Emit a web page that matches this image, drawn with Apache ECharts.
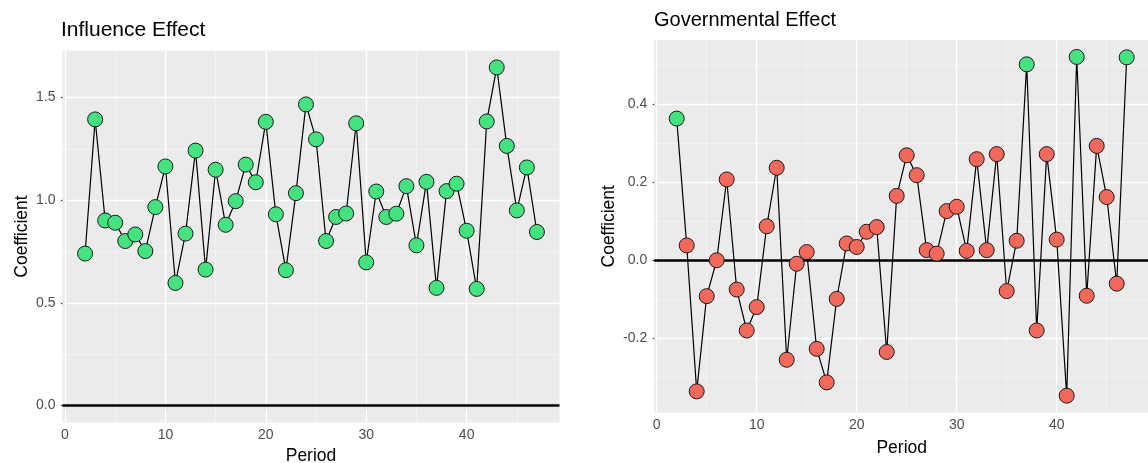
<!DOCTYPE html>
<html>
<head>
<meta charset="utf-8">
<title>Influence / Governmental Effect</title>
<script src="https://cdn.jsdelivr.net/npm/echarts@6/dist/echarts.min.js"></script>
<style>
  html, body { margin: 0; padding: 0; background: #fff; }
  #chart { width: 1148px; height: 463px; }
</style>
</head>
<body>
<div id="chart"></div>
<script>
// data
const periods = [2, 3, 4, 5, 6, 7, 8, 9, 10, 11, 12, 13, 14, 15, 16, 17, 18, 19, 20, 21, 22, 23, 24,
  25, 26, 27, 28, 29, 30, 31, 32, 33, 34, 35, 36, 37, 38, 39, 40, 41, 42, 43, 44, 45, 46, 47];

const influence = [0.740, 1.393, 0.901, 0.890, 0.801, 0.833, 0.752, 0.966, 1.164, 0.597, 0.837, 1.241,
  0.662, 1.148, 0.880, 0.995, 1.173, 1.087, 1.381, 0.931, 0.659, 1.034, 1.466, 1.296, 0.801, 0.918,
  0.935, 1.374, 0.697, 1.042, 0.918, 0.934, 1.068, 0.780, 1.089, 0.573, 1.044, 1.080, 0.851, 0.568,
  1.383, 1.646, 1.264, 0.950, 1.159, 0.845];

const governmental = [0.363, 0.038, -0.336, -0.092, 0.000, 0.207, -0.075, -0.180, -0.120, 0.087, 0.237,
  -0.255, -0.009, 0.021, -0.227, -0.313, -0.099, 0.043, 0.034, 0.073, 0.085, -0.235, 0.165, 0.269,
  0.218, 0.026, 0.017, 0.126, 0.137, 0.024, 0.259, 0.026, 0.272, -0.079, 0.050, 0.502, -0.180, 0.272,
  0.053, -0.347, 0.521, -0.091, 0.293, 0.162, -0.060, 0.520];

// periods drawn green in the governmental panel
const govFlagged = [2, 37, 42, 47];

const xTicks = [0, 10, 20, 30, 40];
const xMinor = [5, 15, 25, 35, 45];
const infTicks = [0, 0.5, 1.0, 1.5];
const infMinor = [0.25, 0.75, 1.25];
const govTicks = [-0.2, 0, 0.2, 0.4];
const govMinor = [-0.3, -0.1, 0.1, 0.3, 0.5];

const GREEN = '#45E37F';
const RED = '#F2695B';
const FONT = '"Liberation Sans", Arial, Helvetica, sans-serif';

const chart = echarts.init(document.getElementById('chart'));

// ggplot style range: 5% padding, zero line included
function padded(values) {
  const lo = Math.min(0, ...values);
  const hi = Math.max(0, ...values);
  const pad = (hi - lo) * 0.05;
  return [lo - pad, hi + pad];
}

const pMin = Math.min(...periods);
const pMax = Math.max(...periods);
const xRange = [pMin - (pMax - pMin) * 0.05, pMax + (pMax - pMin) * 0.05];
const infRange = padded(influence);
const govRange = padded(governmental);

// panel grid lines + black zero line, drawn under the data
function gridLines(xMaj, xMin, yMaj, yMin) {
  const minor = { color: '#F6F6F6', width: 0.7, type: 'solid' };
  const major = { color: '#FFFFFF', width: 1.3, type: 'solid' };
  return [
    ...xMin.map(v => ({ xAxis: v, lineStyle: minor })),
    ...yMin.map(v => ({ yAxis: v, lineStyle: minor })),
    ...xMaj.map(v => ({ xAxis: v, lineStyle: major })),
    ...yMaj.map(v => ({ yAxis: v, lineStyle: major })),
    { yAxis: 0, lineStyle: { color: '#000', width: 2.6, type: 'solid' } }
  ];
}

function gridSeries(idx, yMaj, yMin) {
  return {
    type: 'line',
    xAxisIndex: idx,
    yAxisIndex: idx,
    data: [],
    silent: true,
    z: 1,
    markLine: {
      silent: true,
      z: 1,
      animation: false,
      symbol: ['none', 'none'],
      label: { show: false },
      emphasis: { disabled: true },
      data: gridLines(xTicks, xMinor, yMaj, yMin)
    }
  };
}

function dotSeries(idx, values, baseColor, flagged) {
  return {
    type: 'line',
    xAxisIndex: idx,
    yAxisIndex: idx,
    z: 3,
    symbol: 'circle',
    symbolSize: 15,
    showSymbol: true,
    showAllSymbol: true,
    lineStyle: { color: '#000', width: 1.2 },
    itemStyle: { color: baseColor, borderColor: '#1a1a1a', borderWidth: 1 },
    emphasis: { disabled: true },
    data: periods.map((p, i) => ({
      value: [p, values[i]],
      itemStyle: { color: flagged.includes(p) ? GREEN : baseColor }
    }))
  };
}

function xAxisFor(idx, gap) {
  return {
    type: 'value',
    gridIndex: idx,
    min: xRange[0],
    max: xRange[1],
    name: 'Period',
    nameLocation: 'middle',
    nameGap: gap,
    nameTextStyle: { color: '#000', fontSize: 17.5, fontFamily: FONT },
    axisLine: { show: false },
    splitLine: { show: false },
    axisTick: { show: true, length: 4, customValues: xTicks, lineStyle: { color: '#333', width: 1.2 } },
    axisLabel: { customValues: xTicks, margin: 6, color: '#4D4D4D', fontSize: 14, fontFamily: FONT }
  };
}

function yAxisFor(idx, range, ticks, gap) {
  return {
    type: 'value',
    gridIndex: idx,
    min: range[0],
    max: range[1],
    name: 'Coefficient',
    nameLocation: 'middle',
    nameRotate: 90,
    nameGap: gap,
    nameTextStyle: { color: '#000', fontSize: 17.5, fontFamily: FONT },
    axisLine: { show: false },
    splitLine: { show: false },
    axisTick: { show: true, length: 4, customValues: ticks, lineStyle: { color: '#333', width: 1.2 } },
    axisLabel: {
      customValues: ticks,
      margin: 7,
      color: '#4D4D4D',
      fontSize: 14,
      fontFamily: FONT,
      formatter: v => v.toFixed(1)
    }
  };
}

const option = {
  animation: false,
  backgroundColor: '#fff',
  title: [
    {
      text: 'Influence Effect', left: 61, top: 20, padding: 0,
      textStyle: { fontSize: 21, fontWeight: 'normal', color: '#000', fontFamily: FONT }
    },
    {
      text: 'Governmental Effect', left: 654, top: 10, padding: 0,
      textStyle: { fontSize: 20, fontWeight: 'normal', color: '#000', fontFamily: FONT }
    }
  ],
  grid: [
    {
      left: 62.5, top: 50.5, width: 497, height: 372,
      outerBoundsMode: 'none', containLabel: false,
      show: true, backgroundColor: '#EBEBEB', borderWidth: 0
    },
    {
      left: 654.2, top: 40, width: 495, height: 372.6,
      outerBoundsMode: 'none', containLabel: false,
      show: true, backgroundColor: '#EBEBEB', borderWidth: 0
    }
  ],
  xAxis: [xAxisFor(0, 24), xAxisFor(1, 27)],
  yAxis: [
    yAxisFor(0, infRange, infTicks, 31),
    yAxisFor(1, govRange, govTicks, 36)
  ],
  series: [
    gridSeries(0, infTicks, infMinor),
    gridSeries(1, govTicks, govMinor),
    dotSeries(0, influence, GREEN, []),
    dotSeries(1, governmental, RED, govFlagged)
  ]
};

chart.setOption(option);
</script>
</body>
</html>
